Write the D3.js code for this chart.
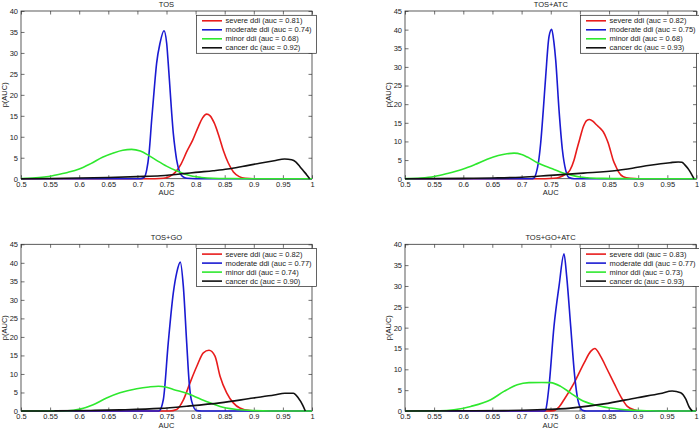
<!DOCTYPE html>
<html>
<head>
<meta charset="utf-8">
<script src="https://cdn.jsdelivr.net/npm/d3@7"></script>
<style>
  html, body { margin: 0; padding: 0; background: #fff; }
  text { font-family: "Liberation Sans", Arial, sans-serif; fill: #222; }
</style>
</head>
<body>
<script>
// ---------- DATA ----------
const xTicks = [0.5, 0.55, 0.6, 0.65, 0.7, 0.75, 0.8, 0.85, 0.9, 0.95, 1];
const panelTitles = ["TOS", "TOS+ATC", "TOS+GO", "TOS+GO+ATC"];
const yMaxes = [40, 45, 45, 40];
const seriesNames = ["severe ddi", "moderate ddi", "minor ddi", "cancer dc"];
const seriesColors = ["#e81c1c", "#1a1ad2", "#2ee82e", "#111111"];

const aucTOS = [0.81, 0.74, 0.68, 0.92];
const aucTOSATC = [0.82, 0.75, 0.68, 0.93];
const aucTOSGO = [0.82, 0.77, 0.74, 0.90];
const aucTOSGOATC = [0.83, 0.77, 0.73, 0.93];

// TOS
const tosSevere = [[0.5,0],[0.73,0],[0.745,0.1],[0.755,0.5],[0.765,1.5],[0.775,3.5],[0.785,6.5],[0.795,9.2],[0.805,12.5],[0.812,14.5],[0.819,15.4],[0.825,15.0],[0.832,13.3],[0.84,10.2],[0.848,6.6],[0.856,3.8],[0.865,1.6],[0.875,0.5],[0.885,0.1],[0.9,0],[1,0]];
const tosModerate = [[0.5,0],[0.705,0],[0.712,0.4],[0.716,2.1],[0.72,6],[0.7245,14],[0.729,21.5],[0.733,27.5],[0.7388,32.3],[0.7457,35.3],[0.7503,32.3],[0.753,27.5],[0.756,21.5],[0.759,15.5],[0.7617,10.8],[0.765,6.8],[0.7674,4.5],[0.773,1.4],[0.778,0.5],[0.785,0.1],[0.8,0],[1,0]];
const tosMinor = [[0.5,0.05],[0.52,0.15],[0.54,0.4],[0.56,0.9],[0.58,1.5],[0.6,2.3],[0.62,3.6],[0.64,5.1],[0.66,6.2],[0.675,6.8],[0.69,7.0],[0.705,6.6],[0.72,5.5],[0.735,4.2],[0.75,3.0],[0.765,2.0],[0.78,1.2],[0.795,0.6],[0.81,0.3],[0.83,0.1],[0.86,0.03],[0.9,0],[1,0]];
const tosCancer = [[0.5,0],[0.55,0.05],[0.6,0.15],[0.65,0.3],[0.7,0.5],[0.74,0.7],[0.78,1.2],[0.8,1.5],[0.83,1.9],[0.855,2.3],[0.88,2.9],[0.91,3.7],[0.935,4.3],[0.953,4.7],[0.965,4.5],[0.972,4.0],[0.979,2.9],[0.985,1.9],[0.991,0.9],[0.996,0]];

// TOS+ATC
const atcSevere = [[0.5,0],[0.74,0],[0.755,0.1],[0.765,0.4],[0.775,1.2],[0.783,2.3],[0.79,5],[0.7945,7.7],[0.8,10.8],[0.806,14],[0.8115,15.6],[0.8165,15.9],[0.823,15.3],[0.8288,14.4],[0.835,13.5],[0.84,12.6],[0.845,11.0],[0.8487,9.5],[0.853,7.2],[0.857,5.0],[0.862,3.2],[0.866,1.9],[0.8745,0.5],[0.886,0.1],[0.9,0],[1,0]];
const atcModerate = [[0.5,0],[0.717,0],[0.7213,0.2],[0.725,1.5],[0.729,4.5],[0.7327,9.5],[0.737,18],[0.7413,27.4],[0.747,38.1],[0.7516,40.1],[0.7555,36.5],[0.7585,31.8],[0.7642,18.4],[0.77,7.7],[0.7756,2.3],[0.7813,0.3],[0.79,0],[1,0]];
const atcMinor = [[0.5,0.02],[0.527,0.2],[0.55,0.6],[0.5726,1.4],[0.6,2.6],[0.62,3.8],[0.641,5.2],[0.66,6.2],[0.675,6.7],[0.687,6.85],[0.7,6.5],[0.71,5.8],[0.727,4.3],[0.74,3.4],[0.7556,2.5],[0.77,1.6],[0.784,1.0],[0.8,0.45],[0.8127,0.25],[0.84,0.08],[0.87,0.02],[0.9,0],[1,0]];
const atcCancer = [[0.5,0],[0.6,0.1],[0.65,0.2],[0.7,0.4],[0.7487,0.9],[0.806,1.5],[0.863,2.2],[0.89,2.8],[0.9202,3.6],[0.9545,4.3],[0.9688,4.5],[0.975,4.4],[0.98,3.7],[0.985,2.8],[0.9889,1.9],[0.9925,0.9],[0.9957,0]];

// TOS+GO
const goSevere = [[0.5,0],[0.755,0],[0.7675,0.4],[0.779,3.0],[0.7904,7.6],[0.8019,12],[0.8133,15.7],[0.823,16.4],[0.8333,14.8],[0.842,9.4],[0.8534,4.9],[0.8648,2.2],[0.876,0.8],[0.8935,0.1],[0.91,0],[1,0]];
const goModerate = [[0.5,0],[0.737,0],[0.7446,3.1],[0.753,18.4],[0.7617,31.9],[0.7675,37.3],[0.7737,40.2],[0.7789,33.7],[0.7847,18.4],[0.789,7.6],[0.7933,2.6],[0.802,0.1],[0.81,0],[1,0]];
const goMinor = [[0.5,0],[0.58,0.05],[0.6014,0.5],[0.624,1.7],[0.647,3.5],[0.67,4.9],[0.6988,6.0],[0.72,6.5],[0.736,6.7],[0.75,6.4],[0.7617,5.8],[0.7847,4.8],[0.8,3.8],[0.8133,2.9],[0.83,1.9],[0.842,1.2],[0.8706,0.4],[0.899,0.1],[0.93,0],[1,0]];
const goCancer = [[0.5,0],[0.5556,0.02],[0.62,0.15],[0.67,0.3],[0.7388,0.7],[0.7847,1.3],[0.842,2.2],[0.899,3.5],[0.935,4.3],[0.9536,4.8],[0.9679,4.8],[0.9765,3.5],[0.984,1.6],[0.9885,0]];

// TOS+GO+ATC
const goatcSevere = [[0.5,0],[0.745,0],[0.756,0.1],[0.765,1.0],[0.7732,2.7],[0.7904,6.7],[0.8076,11.5],[0.819,14.3],[0.826,15.0],[0.8362,13.1],[0.8477,9.9],[0.8591,6.7],[0.8706,3.5],[0.882,1.1],[0.8935,0.3],[0.905,0],[1,0]];
const goatcModerate = [[0.5,0],[0.74,0],[0.7418,0.3],[0.7474,5.9],[0.756,20.3],[0.7646,29.9],[0.7732,37.7],[0.7778,32.3],[0.7847,20.3],[0.7916,8.3],[0.797,2.7],[0.8047,0.2],[0.812,0],[1,0]];
const goatcMinor = [[0.5,0],[0.56,0.05],[0.5842,0.3],[0.613,1.1],[0.6473,2.7],[0.67,4.7],[0.6929,6.3],[0.713,6.8],[0.735,6.85],[0.7503,6.8],[0.7675,5.9],[0.7847,4.3],[0.8019,2.7],[0.8248,1.5],[0.8534,0.7],[0.888,0.2],[0.92,0.05],[0.95,0],[1,0]];
const goatcCancer = [[0.5,0],[0.6,0.05],[0.67,0.1],[0.7273,0.3],[0.7847,0.7],[0.842,1.7],[0.899,3.2],[0.939,4.2],[0.959,4.8],[0.9737,4.4],[0.9823,2.9],[0.9885,0.9],[0.9937,0]];

// ---------- BUILD ----------
const panelSeries = [
  [tosSevere, tosModerate, tosMinor, tosCancer],
  [atcSevere, atcModerate, atcMinor, atcCancer],
  [goSevere, goModerate, goMinor, goCancer],
  [goatcSevere, goatcModerate, goatcMinor, goatcCancer]
];
const panelAucs = [aucTOS, aucTOSATC, aucTOSGO, aucTOSGOATC];

const layout = [
  {l: 21, r: 312, t: 11, b: 178.7},
  {l: 405, r: 696.5, t: 11, b: 178.7},
  {l: 21, r: 312, t: 244.3, b: 411},
  {l: 405, r: 696, t: 244.3, b: 411}
];

const W = 699, H = 430;
const FS = 7.5;
const svg = d3.select("body").append("svg")
  .attr("width", W).attr("height", H)
  .style("display", "block");
svg.append("rect").attr("width", W).attr("height", H).attr("fill", "#fff");

const fmt = d => String(+d.toFixed(2));
const axisColor = "#333";

panelTitles.forEach((title, i) => {
  const L = layout[i];
  const x = d3.scaleLinear().domain([0.5, 1]).range([L.l, L.r]);
  const y = d3.scaleLinear().domain([0, yMaxes[i]]).range([L.b, L.t]);
  const yTicks = d3.range(0, yMaxes[i] + 0.001, 5);
  const g = svg.append("g");

  // axes with inward ticks on all sides
  const styleAxis = sel => {
    sel.select(".domain").remove();
    sel.selectAll(".tick line").attr("stroke", axisColor).attr("stroke-width", 0.7);
    sel.selectAll("text").attr("font-size", FS).attr("fill", "#222")
      .attr("font-family", "Liberation Sans, Arial, sans-serif");
  };
  g.append("g").attr("transform", `translate(0,${L.b})`)
    .call(d3.axisBottom(x).tickValues(xTicks).tickFormat(fmt).tickSizeInner(-3.5).tickSizeOuter(0).tickPadding(3))
    .call(styleAxis);
  g.append("g").attr("transform", `translate(0,${L.t})`)
    .call(d3.axisTop(x).tickValues(xTicks).tickFormat("").tickSizeInner(-3.5).tickSizeOuter(0))
    .call(styleAxis);
  g.append("g").attr("transform", `translate(${L.l},0)`)
    .call(d3.axisLeft(y).tickValues(yTicks).tickFormat(fmt).tickSizeInner(-3.5).tickSizeOuter(0).tickPadding(3))
    .call(styleAxis);
  g.append("g").attr("transform", `translate(${L.r},0)`)
    .call(d3.axisRight(y).tickValues(yTicks).tickFormat("").tickSizeInner(-3.5).tickSizeOuter(0))
    .call(styleAxis);

  g.append("rect")
    .attr("x", L.l).attr("y", L.t)
    .attr("width", L.r - L.l).attr("height", L.b - L.t)
    .attr("fill", "none").attr("stroke", axisColor).attr("stroke-width", 0.8);

  // titles & labels
  g.append("text").attr("x", (L.l + L.r) / 2).attr("y", L.t - 4.3)
    .attr("text-anchor", "middle").attr("font-size", FS).text(title);
  g.append("text").attr("x", (L.l + L.r) / 2).attr("y", L.b + 16.5)
    .attr("text-anchor", "middle").attr("font-size", FS).text("AUC");
  g.append("text")
    .attr("transform", `translate(${L.l - 14.5},${(L.t + L.b) / 2}) rotate(-90)`)
    .attr("text-anchor", "middle").attr("font-size", FS).text("p(AUC)");

  // curves
  const line = d3.line().x(d => x(d[0])).y(d => y(d[1])).curve(d3.curveMonotoneX);
  panelSeries[i].forEach((s, k) => {
    g.append("path").datum(s)
      .attr("d", line)
      .attr("fill", "none")
      .attr("stroke", seriesColors[k])
      .attr("stroke-width", 1.6)
      .attr("stroke-linejoin", "round");
  });

  // legend
  const lg = g.append("g").attr("transform", `translate(${L.l + 175.5},${L.t + 4.3})`);
  const box = lg.append("rect").attr("fill", "#fff").attr("stroke", "#222").attr("stroke-width", 0.7);
  let maxW = 0;
  seriesNames.forEach((nm, k) => {
    const cy = 5.5 + k * 9;
    lg.append("line").attr("x1", 5.5).attr("x2", 25.5).attr("y1", cy).attr("y2", cy)
      .attr("stroke", seriesColors[k]).attr("stroke-width", 1.6);
    const t = lg.append("text").attr("x", 29).attr("y", cy).attr("dy", "0.35em")
      .attr("font-size", FS)
      .text(`${nm} (auc = ${panelAucs[i][k].toFixed(2)})`);
    maxW = Math.max(maxW, t.node().getComputedTextLength());
  });
  box.attr("x", 0).attr("y", 0).attr("width", 29 + maxW + 5).attr("height", 38);
});
</script>
</body>
</html>
